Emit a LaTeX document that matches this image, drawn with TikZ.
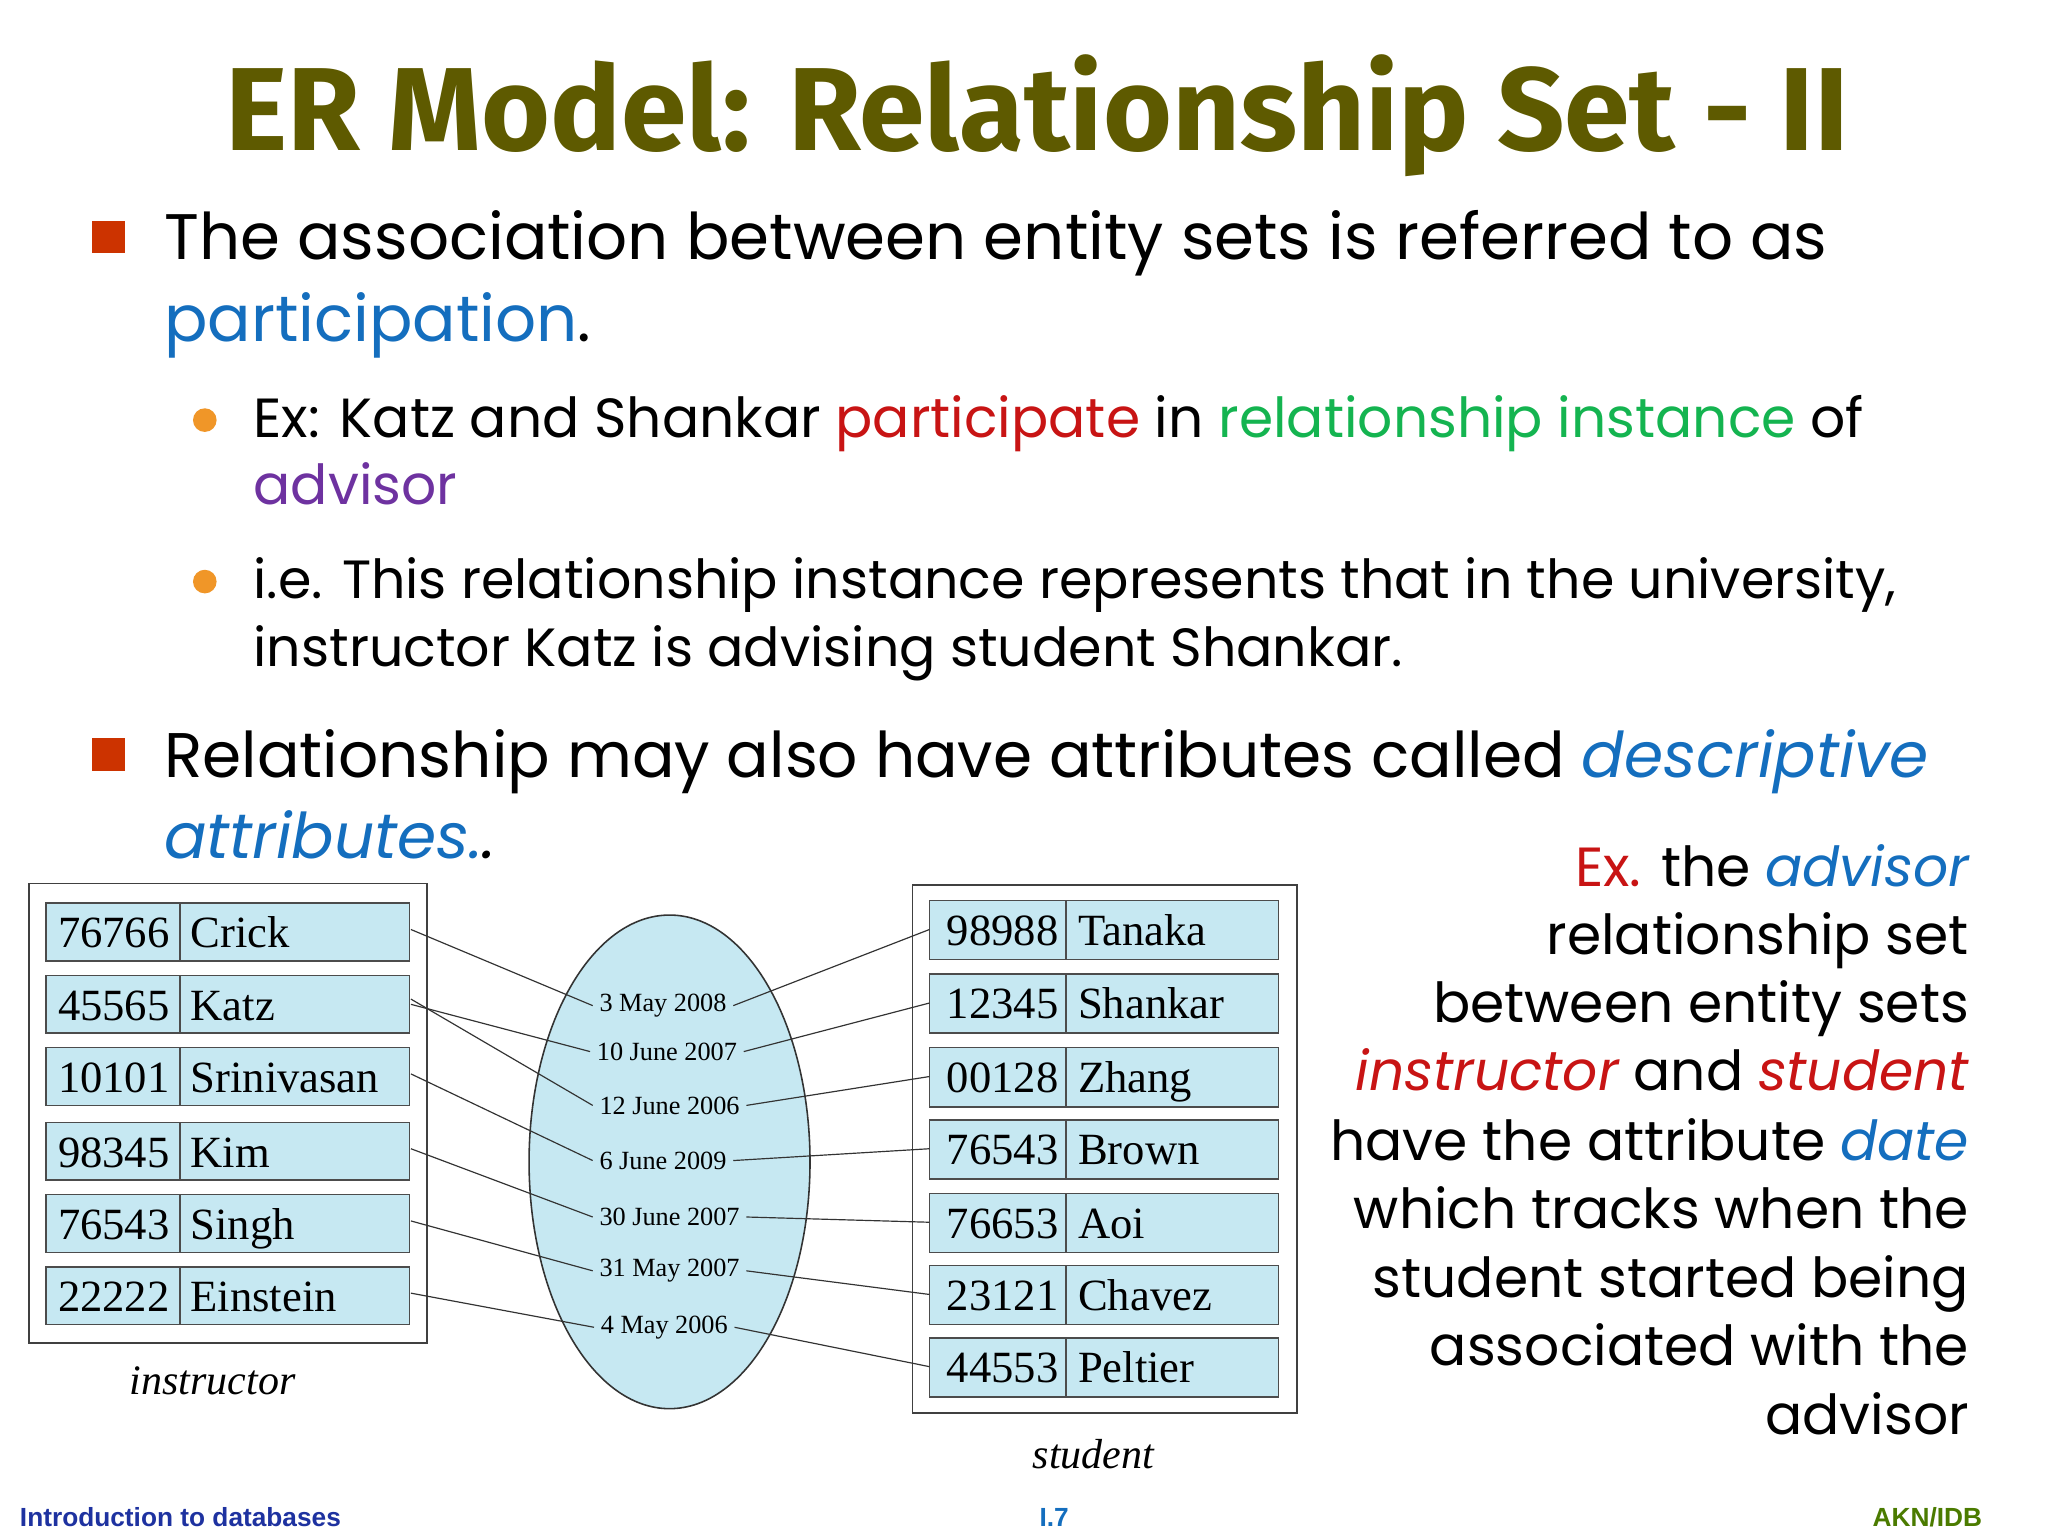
\documentclass[tikz,border=0pt]{standalone}
\usepackage{fontspec}
\setmainfont{Poppins}
\newfontfamily\titlef{Fira Sans}
\newfontfamily\serf{Liberation Serif}
\newfontfamily\footf{Liberation Sans}
\definecolor{olive}{RGB}{94,90,0}
\definecolor{bred}{RGB}{204,51,0}
\definecolor{borange}{RGB}{240,150,40}
\definecolor{tblue}{RGB}{20,110,190}
\definecolor{tred}{RGB}{200,20,20}
\definecolor{tgreen}{RGB}{20,180,80}
\definecolor{tpurple}{RGB}{110,50,160}
\definecolor{cellb}{RGB}{198,232,242}
\definecolor{fblue}{RGB}{30,50,160}
\tikzset{
 body/.style={anchor=base west,inner sep=0,font=\fontsize{49}{54}\selectfont},
 sbody/.style={anchor=base west,inner sep=0,font=\fontsize{42}{46}\selectfont},
 rbody/.style={anchor=base east,inner sep=0,font=\fontsize{42}{46}\selectfont},
 cell/.style={draw=black!70,fill=cellb,line width=1.2pt},
 ctxt/.style={anchor=base west,inner sep=0,font=\serf\fontsize{34}{36}\selectfont},
 dte/.style={inner xsep=5pt,inner ysep=1pt,font=\serf\fontsize{20}{22}\selectfont},
 lnk/.style={draw=black!80,line width=0.9pt},
}
\begin{document}
\begin{tikzpicture}[x=1pt,y=-1pt]
\useasboundingbox (0,0) rectangle (1560,1170);
\fill[white] (0,0) rectangle (1560,1170);
\node[font=\titlef\bfseries\fontsize{90}{92}\selectfont,text=olive,inner sep=0] (title) at (790,88) {ER Model: Relationship Set - II};
% bullets
\fill[bred] (70,168) rectangle (95,193);
\node[body] (b1a) at (125,198) {The association between entity sets is referred to as};
\node[body,text=tblue] (b1b) at (125,260) {participation\textcolor{black}{.}};
\fill[borange] (156,320) circle (9);
\node[sbody] (s1a) at (193,333) {Ex: Katz and Shankar \textcolor{tred}{participate} in \textcolor{tgreen}{relationship instance} of};
\node[sbody,text=tpurple] (s1b) at (193,384) {advisor};
\fill[borange] (156,443) circle (9);
\node[sbody,font=\fontsize{41}{46}\selectfont] (s2a) at (193,456) {i.e. This relationship instance represents that in the university,};
\node[sbody,font=\fontsize{41}{46}\selectfont] (s2b) at (193,508) {instructor Katz is advising student Shankar.};
\fill[bred] (70,562) rectangle (95,587);
\node[body,font=\fontsize{48}{54}\selectfont] (b2a) at (125,592) {Relationship may also have attributes called \textcolor{tblue}{\itshape descriptive}};
\node[body,font=\fontsize{48}{54}\selectfont,text=tblue] (b2b) at (125,654) {\itshape attributes.\textcolor{black}{.}};
% instructor
\draw[line width=1.4pt,black!75] (22,673) rectangle (325,1023);
\foreach \i/\id/\nm/\yy in {1/76766/Crick/688,2/45565/Katz/743,3/10101/Srinivasan/798,4/98345/Kim/855,5/76543/Singh/910,6/22222/Einstein/965}{
 \draw[cell] (35,\yy) rectangle (312,\yy+44);
 \draw[black!70,line width=1.2pt] (137,\yy) -- (137,\yy+44);
 \node[ctxt] at (44,\yy+34) {\id};
 \node[ctxt] at (145,\yy+34) {\nm};
 \coordinate (i\i) at (313,\yy+20);
}
\node[font=\serf\itshape\fontsize{32}{34}\selectfont] (ilab) at (162,1052) {instructor};
% ellipse
\draw[fill=cellb,draw=black!80,line width=1.2pt] (510,885) ellipse (107 and 188);
\node[dte] (d1) at (505,766) {3 May 2008};
\node[dte] (d2) at (508,801) {10 June 2007};
\node[dte] (d3) at (510,842) {12 June 2006};
\node[dte] (d4) at (505,884) {6 June 2009};
\node[dte] (d5) at (510,927) {30 June 2007};
\node[dte] (d6) at (510,968) {31 May 2007};
\node[dte] (d7) at (506,1011) {4 May 2006};
% student
\draw[line width=1.4pt,black!75] (695,674) rectangle (988,1076);
\foreach \i/\id/\nm/\yy in {1/98988/Tanaka/686,2/12345/Shankar/742,3/00128/Zhang/798,4/76543/Brown/853,5/76653/Aoi/909,6/23121/Chavez/964,7/44553/Peltier/1019}{
 \draw[cell] (708,\yy) rectangle (974,\yy+45);
 \draw[black!70,line width=1.2pt] (812,\yy) -- (812,\yy+45);
 \node[ctxt] at (721,\yy+34) {\id};
 \node[ctxt] at (821,\yy+34) {\nm};
 \coordinate (t\i) at (708,\yy+22);
}
\node[font=\serf\itshape\fontsize{32}{34}\selectfont] (slab) at (833,1108) {student};
% links
\draw[lnk] (i1) -- (d1.west);
\draw[lnk] ([yshift=-2]i2) -- (d2.west);
\draw[lnk] ([yshift=2]i2) -- (d3.west);
\draw[lnk] (i3) -- (d4.west);
\draw[lnk] (i4) -- (d5.west);
\draw[lnk] (i5) -- (d6.west);
\draw[lnk] (i6) -- (d7.west);
\draw[lnk] (d1.east) -- (t1);
\draw[lnk] (d2.east) -- (t2);
\draw[lnk] (d3.east) -- (t3);
\draw[lnk] (d4.east) -- (t4);
\draw[lnk] (d5.east) -- (t5);
\draw[lnk] (d6.east) -- (t6);
\draw[lnk] (d7.east) -- (t7);
% right text
\node[rbody] (r1) at (1500,675) {\textcolor{tred}{Ex.} the \textcolor{tblue}{\itshape advisor}};
\node[rbody] (r2) at (1500,727) {relationship set};
\node[rbody] (r3) at (1500,779) {between entity sets};
\node[rbody] (r4) at (1500,831) {\textcolor{tred}{\itshape instructor} and \textcolor{tred}{\itshape student}};
\node[rbody] (r5) at (1500,884) {have the attribute \textcolor{tblue}{\itshape date}};
\node[rbody] (r6) at (1500,936) {which tracks when the};
\node[rbody] (r7) at (1500,988) {student started being};
\node[rbody] (r8) at (1500,1040) {associated with the};
\node[rbody] (r9) at (1500,1093) {advisor};
% footer
\node[anchor=base west,inner sep=0,font=\footf\bfseries\fontsize{20}{22}\selectfont,text=fblue] (f1) at (15,1163) {Introduction to databases};
\node[anchor=base,inner sep=0,font=\footf\bfseries\fontsize{20}{22}\selectfont,text=tblue] (f2) at (803,1163) {I.7};
\node[anchor=base east,inner sep=0,font=\footf\bfseries\fontsize{20}{22}\selectfont,text=olive!80!green] (f3) at (1510,1163) {AKN/IDB};
\end{tikzpicture}
\end{document}
